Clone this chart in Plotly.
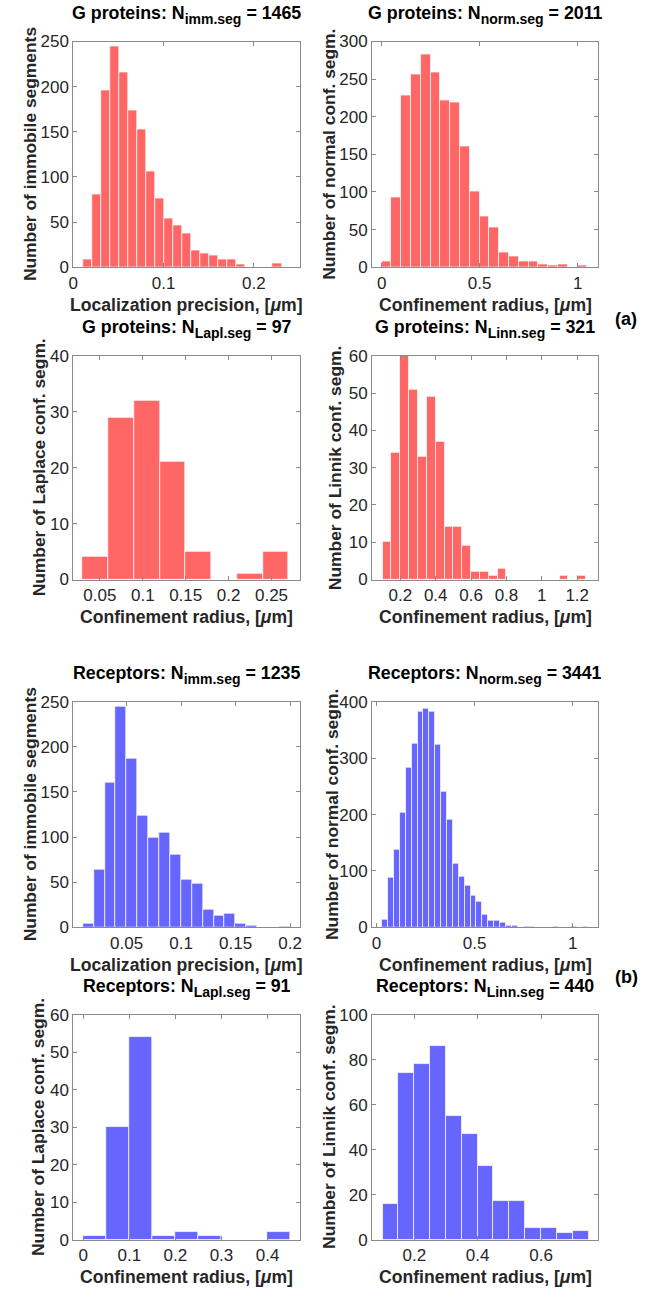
import plotly.graph_objects as go

W, H = 656, 1299

# ---------------- data ----------------
# G proteins
g_imm_start, g_imm_width = 0.011, 0.01
g_imm_counts = [9, 80, 196, 245, 216, 174, 152, 106, 76, 54, 46, 37, 19, 15, 13, 9, 8, 3, 0, 0, 0, 4]

g_norm_start, g_norm_width = 0.0, 0.05
g_norm_counts = [7, 92, 228, 256, 283, 259, 222, 219, 161, 100, 67, 53, 19, 14, 7, 7, 3, 2, 3, 0, 2]

g_lapl_start, g_lapl_width = 0.03, 0.03
g_lapl_counts = [4, 29, 32, 21, 5, 0, 1, 5]

g_linn_start, g_linn_width = 0.1, 0.05
g_linn_counts = [10, 34, 60, 51, 33, 49, 37, 14, 14, 9, 2, 2, 1, 3, 0, 0, 0, 0, 0, 0, 1, 0, 1]

# Receptors
r_imm_start, r_imm_width = 0.01, 0.01
r_imm_counts = [4, 64, 160, 244, 187, 124, 99, 105, 80, 53, 48, 20, 13, 15, 4, 2, 0, 0, 1]

r_norm_start, r_norm_width = 0.03, 0.03
r_norm_counts = [13, 88, 137, 203, 283, 325, 382, 388, 382, 323, 241, 190, 113, 90, 73, 57, 45,
                 23, 12, 12, 9, 3, 3, 0, 1, 1, 0, 0, 0, 1, 0, 0, 2, 0, 1]

r_lapl_start, r_lapl_width = 0.0, 0.05
r_lapl_counts = [1, 30, 54, 1, 2, 1, 0, 0, 2]

r_linn_start, r_linn_width = 0.1, 0.05
r_linn_counts = [16, 74, 78, 86, 55, 47, 33, 17, 17, 5, 5, 3, 4]

title_groups = ["G proteins", "G proteins", "G proteins", "G proteins",
                "Receptors", "Receptors", "Receptors", "Receptors"]
title_subs = ["imm.seg", "norm.seg", "Lapl.seg", "Linn.seg",
              "imm.seg", "norm.seg", "Lapl.seg", "Linn.seg"]
title_totals = [1465, 2011, 97, 321, 1235, 3441, 91, 440]

ylabels = [
    "Number of immobile segments",
    "Number of normal conf. segm.",
    "Number of Laplace conf. segm.",
    "Number of Linnik conf. segm.",
    "Number of immobile segments",
    "Number of normal conf. segm.",
    "Number of Laplace conf. segm.",
    "Number of Linnik conf. segm.",
]
xlabel_loc = "Localization precision, ["
xlabel_rad = "Confinement radius, ["
xlabels = [xlabel_loc, xlabel_rad, xlabel_rad, xlabel_rad,
           xlabel_loc, xlabel_rad, xlabel_rad, xlabel_rad]

x_ticks = [
    [0, 0.1, 0.2],
    [0, 0.5, 1],
    [0.05, 0.1, 0.15, 0.2, 0.25],
    [0.2, 0.4, 0.6, 0.8, 1, 1.2],
    [0.05, 0.1, 0.15, 0.2],
    [0, 0.5, 1],
    [0, 0.1, 0.2, 0.3, 0.4],
    [0.2, 0.4, 0.6],
]
x_ranges = [
    [0, 0.251], [-0.049, 1.104], [0.019, 0.283], [0.04, 1.318],
    [0.001, 0.209], [-0.022, 1.129], [-0.0215, 0.470], [0.0667, 0.780],
]
y_ranges = [[0, 250], [0, 300], [0, 40], [0, 60], [0, 250], [0, 400], [0, 60], [0, 100]]
y_dticks = [50, 50, 10, 10, 50, 100, 10, 20]

series = [
    (g_imm_start, g_imm_width, g_imm_counts),
    (g_norm_start, g_norm_width, g_norm_counts),
    (g_lapl_start, g_lapl_width, g_lapl_counts),
    (g_linn_start, g_linn_width, g_linn_counts),
    (r_imm_start, r_imm_width, r_imm_counts),
    (r_norm_start, r_norm_width, r_norm_counts),
    (r_lapl_start, r_lapl_width, r_lapl_counts),
    (r_linn_start, r_linn_width, r_linn_counts),
]

# ---------------- layout geometry (window pixels) ----------------
col_px = [(69, 298), (371, 599.5)]
row_px = [(33, 262), (352, 579), (703, 932), (1021, 1249)]

RED = "#FF6666"
BLUE = "#6666FF"
FONT = "Liberation Sans, Arial, Helvetica, sans-serif"
TXT = "#262626"
AXC = "#8a8a8a"
TS = 17.8    # title size
SS = 14      # subscript size
LS = 17.6    # axis label size


def px_x(p):
    return p / W


def px_y(p):
    return 1 - p / H


fig = go.Figure()
layout = dict(
    width=W, height=H,
    margin=dict(l=0, r=0, t=0, b=0),
    paper_bgcolor="white", plot_bgcolor="white",
    bargap=0, showlegend=False,
    font=dict(family=FONT, color=TXT, size=17),
)
annotations = []

for i, (start, width, counts) in enumerate(series):
    idx = i + 1
    r, c = divmod(i, 2)
    x0, x1 = col_px[c]
    y0, y1 = row_px[r]
    xname = "x" if idx == 1 else f"x{idx}"
    yname = "y" if idx == 1 else f"y{idx}"
    color = RED if i < 4 else BLUE
    centers = [start + width * (k + 0.5) for k in range(len(counts))]
    fig.add_trace(go.Bar(
        x=centers, y=counts, width=[width] * len(counts),
        marker=dict(color=color, line=dict(color="rgba(255,255,255,0.7)", width=1)),
        xaxis=xname, yaxis=yname, hoverinfo="x+y",
    ))
    axis_common = dict(
        showgrid=False, zeroline=False, showline=True, mirror="ticks",
        linecolor=AXC, linewidth=1, ticks="inside", ticklen=4, tickcolor=AXC,
        tickwidth=1, tickfont=dict(family=FONT, size=17, color=TXT),
    )
    layout["xaxis" + ("" if idx == 1 else str(idx))] = dict(
        axis_common, domain=[px_x(x0), px_x(x1)], range=x_ranges[i],
        anchor=yname, tickmode="array", tickvals=x_ticks[i],
    )
    layout["yaxis" + ("" if idx == 1 else str(idx))] = dict(
        axis_common, domain=[px_y(y1), px_y(y0)], range=y_ranges[i],
        anchor=xname, dtick=y_dticks[i], tick0=0,
    )
    xc = (x0 + x1) / 2
    yc = (y0 + y1) / 2
    # title (subscript drawn with a baseline shift)
    title_html = (f"<b>{title_groups[i]}: N<span style=\"font-size:{SS}px;baseline-shift:-5px\">"
                  f"{title_subs[i]}</span> = {title_totals[i]}</b>")
    annotations.append(dict(
        text=title_html, xref="paper", yref="paper",
        x=px_x(xc), y=px_y(y0 - 13), xanchor="center", yanchor="bottom",
        showarrow=False, font=dict(family=FONT, size=TS, color="black"),
    ))
    # x label
    xl_html = (f"<b>{xlabels[i]}<span style=\"font-style:italic;font-size:{LS}px\">μ</span>m]</b>")
    annotations.append(dict(
        text=xl_html, xref="paper", yref="paper",
        x=px_x(xc), y=px_y(y1 + 38), xanchor="center", yanchor="middle",
        showarrow=False, font=dict(family=FONT, size=LS, color=TXT),
    ))
    # y label
    ylab_x = [26, 328, 34, 333, 25, 330, 34, 328][i]
    annotations.append(dict(
        text="<b>" + ylabels[i] + "</b>", xref="paper", yref="paper",
        x=px_x(ylab_x), y=px_y(yc), xanchor="center", yanchor="middle",
        textangle=-90, showarrow=False, font=dict(family=FONT, size=17.4, color=TXT),
    ))

annotations.append(dict(text="<b>(a)</b>", xref="paper", yref="paper",
                        x=px_x(628), y=px_y(315), xanchor="center", yanchor="middle",
                        showarrow=False, font=dict(family=FONT, size=18, color="black")))
annotations.append(dict(text="<b>(b)</b>", xref="paper", yref="paper",
                        x=px_x(628), y=px_y(982), xanchor="center", yanchor="middle",
                        showarrow=False, font=dict(family=FONT, size=18, color="black")))

layout["annotations"] = annotations
fig.update_layout(**layout)
fig.write_html(
    "out.html",
    config={"displayModeBar": False},
    post_script="document.body.style.margin='0px';document.documentElement.style.overflow='hidden';",
)
